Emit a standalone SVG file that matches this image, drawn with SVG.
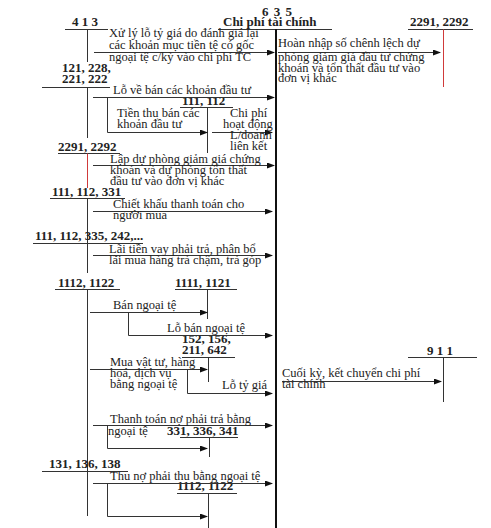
<svg xmlns="http://www.w3.org/2000/svg" width="491" height="528" viewBox="0 0 491 528">
<style>
text{font-family:"Liberation Serif","Times New Roman",serif;fill:#222}
.t{font-size:12.5px}
.b{font-size:13px;font-weight:bold}
.ln{stroke:#333;stroke-width:1;fill:none}
.red{stroke:#d03a3a;stroke-width:1;fill:none}
.main{stroke:#111;stroke-width:2;fill:none}
.ar{stroke:#333;stroke-width:1;fill:none;marker-end:url(#ah)}
</style>
<defs>
<marker id="ah" markerUnits="userSpaceOnUse" markerWidth="8" markerHeight="6" refX="7" refY="3" orient="auto">
<path d="M0,0 L8,3 L0,6 Z" fill="#111"/>
</marker>
</defs>
<rect width="491" height="528" fill="#fff"/>

<g id="acc-635">
<text class="b" x="262" y="16" letter-spacing="1">6 3 5</text>
<text class="b" x="223" y="26">Chi phí tài chính</text>
<line class="ln" x1="218" y1="29.5" x2="332" y2="29.5"/>
<line class="main" x1="276" y1="29" x2="276" y2="528"/>
</g>
<g id="acc-413">
<text class="b" x="72" y="26">4 1 3</text>
<line class="ln" x1="65" y1="29.5" x2="108" y2="29.5"/>
<line class="ln" x1="87.5" y1="29.5" x2="87.5" y2="62"/>
</g>
<g id="acc-2291-right">
<text class="b" x="410" y="26">2291, 2292</text>
<line class="ln" x1="408" y1="29.5" x2="473" y2="29.5"/>
<line class="red" x1="443.5" y1="29.5" x2="443.5" y2="87"/>
</g>
<g id="acc-121">
<text class="b" x="62" y="72">121, 228,</text>
<text class="b" x="62" y="83">221, 222</text>
<line class="ln" x1="42" y1="87.5" x2="110" y2="87.5"/>
<line class="ln" x1="87.5" y1="87.5" x2="87.5" y2="138"/>
</g>
<g id="acc-111-112">
<text class="b" x="182" y="105">111, 112</text>
<line class="ln" x1="180" y1="107.5" x2="233" y2="107.5"/>
<line class="ln" x1="207.5" y1="107.5" x2="207.5" y2="153"/>
</g>
<g id="acc-2291-left">
<text class="b" x="58" y="151">2291, 2292</text>
<line class="ln" x1="58" y1="153.5" x2="120" y2="153.5"/>
<line class="red" x1="87.5" y1="153.5" x2="87.5" y2="188"/>
</g>
<g id="acc-111-112-331">
<text class="b" x="52" y="196">111, 112, 331</text>
<line class="ln" x1="50" y1="198.5" x2="125" y2="198.5"/>
<line class="ln" x1="87.5" y1="198.5" x2="87.5" y2="273"/>
</g>
<g id="acc-111-335">
<text class="b" x="35" y="240">111, 112, 335, 242,...</text>
<line class="ln" x1="33" y1="243.5" x2="143" y2="243.5"/>
</g>
<g id="acc-1112-1122">
<text class="b" x="58" y="287">1112, 1122</text>
<line class="ln" x1="55" y1="289.5" x2="120" y2="289.5"/>
<line class="ln" x1="87.5" y1="289.5" x2="87.5" y2="516"/>
</g>
<g id="acc-1111-1121">
<text class="b" x="175" y="287">1111, 1121</text>
<line class="ln" x1="175" y1="289.5" x2="237" y2="289.5"/>
<line class="ln" x1="207.5" y1="289.5" x2="207.5" y2="319"/>
</g>
<g id="acc-152">
<text class="b" x="182" y="343">152, 156,</text>
<text class="b" x="182" y="354">211, 642</text>
<line class="ln" x1="182" y1="357.5" x2="235" y2="357.5"/>
<line class="ln" x1="208.5" y1="357.5" x2="208.5" y2="382"/>
</g>
<g id="acc-911">
<text class="b" x="427" y="355">9 1 1</text>
<line class="ln" x1="408" y1="357.5" x2="477" y2="357.5"/>
<line class="ln" x1="443.5" y1="357.5" x2="443.5" y2="402"/>
</g>
<g id="acc-331-336">
<text class="b" x="167" y="435">331, 336, 341</text>
<line class="ln" x1="180" y1="437.5" x2="238" y2="437.5"/>
<line class="ln" x1="209.5" y1="437.5" x2="209.5" y2="457"/>
</g>
<g id="acc-131">
<text class="b" x="49" y="468">131, 136, 138</text>
<line class="ln" x1="42" y1="471.5" x2="128" y2="471.5"/>
</g>
<g id="acc-1112-b">
<text class="b" x="177" y="490">1112, 1122</text>
<line class="ln" x1="177" y1="493.5" x2="237" y2="493.5"/>
<line class="ln" x1="208.5" y1="493.5" x2="208.5" y2="528"/>
</g>

<g id="connectors">
<path class="ar" d="M94,52.5 H274"/>
<path class="ar" d="M278,52.5 H440"/>
<path class="ar" d="M93,97.5 H274"/>
<path class="ar" d="M107.5,97.5 V132.5 H207"/>
<path class="ar" d="M212,132.5 H272"/>
<path class="ar" d="M93,165.5 H274"/>
<path class="ar" d="M93,211.5 H272"/>
<path class="ar" d="M93,255.5 H272"/>
<path class="ar" d="M90,312.5 H207"/>
<path class="ar" d="M128.5,312.5 V335.5 H272"/>
<path class="ar" d="M90,369.5 H207"/>
<path class="ar" d="M187.5,369.5 V393.5 H272"/>
<path class="ar" d="M282,381.5 H441"/>
<path class="ar" d="M93,425.5 H272"/>
<path class="ar" d="M107.5,425.5 V448.5 H207"/>
<path class="ar" d="M93,483.5 H272"/>
<path class="ar" d="M107.5,483.5 V516.5 H207"/>
</g>

<g id="labels">
<text class="t" x="109" y="37">Xử lý lỗ tỷ giá do đánh giá lại</text>
<text class="t" x="109" y="49">các khoản mục tiền tệ có gốc</text>
<text class="t" x="109" y="61">ngoại tệ c/kỳ vào chi phí TC</text>
<text class="t" x="278" y="47">Hoàn nhập số chênh lệch dự</text>
<text class="t" x="278" y="61">phòng giảm giá đầu tư chứng</text>
<text class="t" x="278" y="71.5">khoán và tổn thất đầu tư vào</text>
<text class="t" x="278" y="82">đơn vị khác</text>
<text class="t" x="113" y="94">Lỗ về bán các khoản đầu tư</text>
<text class="t" x="117" y="117">Tiền thu bán các</text>
<text class="t" x="117" y="128">khoản đầu tư</text>
<text class="t" x="230" y="117">Chi phí</text>
<text class="t" x="223" y="128">hoạt động</text>
<text class="t" x="230" y="139">L/doanh</text>
<text class="t" x="230" y="150">liên kết</text>
<text class="t" x="110" y="163">Lập dự phòng giảm giá chứng</text>
<text class="t" x="110" y="174">khoán và dự phòng tổn thất</text>
<text class="t" x="110" y="185">đầu tư vào đơn vị khác</text>
<text class="t" x="113" y="208">Chiết khấu thanh toán cho</text>
<text class="t" x="113" y="219">người mua</text>
<text class="t" x="109" y="253">Lãi tiền vay phải trả, phân bổ</text>
<text class="t" x="109" y="264">lãi mua hàng trả chậm, trả góp</text>
<text class="t" x="113" y="309">Bán ngoại tệ</text>
<text class="t" x="167" y="332">Lỗ bán ngoại tệ</text>
<text class="t" x="110" y="366">Mua vật tư, hàng</text>
<text class="t" x="110" y="377">hoá, dịch  vụ</text>
<text class="t" x="110" y="388">bằng ngoại tệ</text>
<text class="t" x="222" y="389">Lỗ tỷ giá</text>
<text class="t" x="282" y="377">Cuối kỳ, kết chuyển chi phí</text>
<text class="t" x="282" y="388">tài chính</text>
<text class="t" x="110" y="423">Thanh toán nợ phải trả bằng</text>
<text class="t" x="108" y="435">ngoại tệ</text>
<text class="t" x="110" y="480">Thu nợ phải thu bằng ngoại tệ</text>
</g>
</svg>
